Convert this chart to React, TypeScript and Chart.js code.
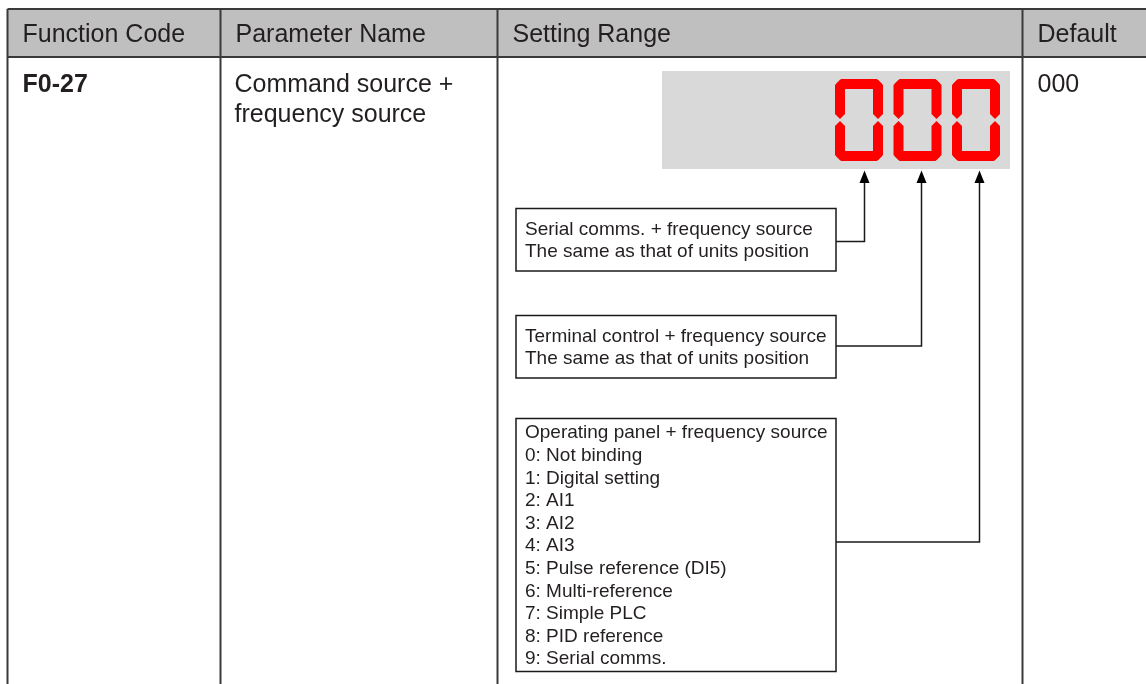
import React, { useEffect, useRef } from "react";
import { Chart, registerables } from "chart.js";

Chart.register(...registerables);

// ---- content ----
const headers = ["Function Code", "Parameter Name", "Setting Range", "Default"];
const functionCode = "F0-27";
const parameterName = ["Command source +", "frequency source"];
const defaultValue = "000";
const displayDigits = ["0", "0", "0"];
const thousandsBox = ["Serial comms. + frequency source", "The same as that of units position"];
const hundredsBox = ["Terminal control + frequency source", "The same as that of units position"];
const unitsBox = [
  "Operating panel + frequency source",
  "0: Not binding",
  "1: Digital setting",
  "2: AI1",
  "3: AI2",
  "4: AI3",
  "5: Pulse reference (DI5)",
  "6: Multi-reference",
  "7: Simple PLC",
  "8: PID reference",
  "9: Serial comms.",
];

// ---- layout (pixel space of the 1146x684 canvas) ----
const W = 1146;
const H = 684;
const colX = [7.5, 220.5, 497.5, 1022.5];
const tableTop = 9;
const headerBottom = 57;
const textColor = "#231f20";
const lineColor = "#3a3a3a";
const FONT = '"Liberation Sans", Arial, sans-serif';

const tablePlugin = {
  id: "tableDiagram",
  afterDraw(chart: any) {
    const ctx = chart.ctx as CanvasRenderingContext2D;
    const xs = chart.scales.x;
    const ys = chart.scales.y;
    const X = (v: number) => xs.getPixelForValue(v);
    const Y = (v: number) => ys.getPixelForValue(v);
    ctx.save();

    // header background
    ctx.fillStyle = "#bfbfbf";
    ctx.fillRect(X(colX[0]), Y(tableTop), X(W + 10) - X(colX[0]), Y(headerBottom) - Y(tableTop));

    // grid lines
    ctx.strokeStyle = lineColor;
    ctx.lineWidth = 2;
    ctx.beginPath();
    ctx.moveTo(X(colX[0]), Y(tableTop));
    ctx.lineTo(X(W + 10), Y(tableTop));
    ctx.moveTo(X(colX[0]), Y(headerBottom));
    ctx.lineTo(X(W + 10), Y(headerBottom));
    colX.forEach((c) => {
      ctx.moveTo(X(c), Y(tableTop));
      ctx.lineTo(X(c), Y(H + 10));
    });
    ctx.stroke();

    // header texts
    ctx.fillStyle = textColor;
    ctx.textBaseline = "alphabetic";
    ctx.textAlign = "left";
    ctx.font = `25px ${FONT}`;
    headers.forEach((h, i) => {
      ctx.fillText(h, X(colX[i] + 15), Y(41.5));
    });

    // body row
    ctx.font = `bold 25px ${FONT}`;
    ctx.fillText(functionCode, X(22.5), Y(92));
    ctx.font = `25px ${FONT}`;
    parameterName.forEach((t, i) => ctx.fillText(t, X(colX[1] + 14), Y(92 + i * 29.5)));
    ctx.fillText(defaultValue, X(colX[3] + 15), Y(92));

    // LCD display
    ctx.fillStyle = "#d9d9d9";
    ctx.fillRect(X(662), Y(71), X(1010) - X(662), Y(169) - Y(71));

    const digitX = [835, 893.5, 952];
    const dw = 48, dh = 82, t = 10, g = 1;
    const dy = 79;
    ctx.fillStyle = "#ff0000";
    const hseg = (x0: number, yc: number) => {
      const xa = x0 + g, xb = x0 + dw - g;
      ctx.beginPath();
      ctx.moveTo(X(xa), Y(yc));
      ctx.lineTo(X(xa + t / 2), Y(yc - t / 2));
      ctx.lineTo(X(xb - t / 2), Y(yc - t / 2));
      ctx.lineTo(X(xb), Y(yc));
      ctx.lineTo(X(xb - t / 2), Y(yc + t / 2));
      ctx.lineTo(X(xa + t / 2), Y(yc + t / 2));
      ctx.closePath();
      ctx.fill();
    };
    const vseg = (xc: number, ya: number, yb: number) => {
      ctx.beginPath();
      ctx.moveTo(X(xc), Y(ya));
      ctx.lineTo(X(xc + t / 2), Y(ya + t / 2));
      ctx.lineTo(X(xc + t / 2), Y(yb - t / 2));
      ctx.lineTo(X(xc), Y(yb));
      ctx.lineTo(X(xc - t / 2), Y(yb - t / 2));
      ctx.lineTo(X(xc - t / 2), Y(ya + t / 2));
      ctx.closePath();
      ctx.fill();
    };
    displayDigits.forEach((d, i) => {
      const x0 = digitX[i];
      const y0 = dy;
      if (d === "0") {
        hseg(x0, y0 + t / 2);
        hseg(x0, y0 + dh - t / 2);
        const mid = y0 + dh / 2;
        vseg(x0 + t / 2, y0 + g, mid - g);
        vseg(x0 + t / 2, mid + g, y0 + dh - g);
        vseg(x0 + dw - t / 2, y0 + g, mid - g);
        vseg(x0 + dw - t / 2, mid + g, y0 + dh - g);
      }
    });

    // boxes
    const boxes = [
      { lines: thousandsBox, top: 208.5, bottom: 271, first: 234.5, conn: 241.5, ax: 864.5 },
      { lines: hundredsBox, top: 315.5, bottom: 378, first: 341.5, conn: 346, ax: 921.5 },
      { lines: unitsBox, top: 418.5, bottom: 671.5, first: 438.3, conn: 542, ax: 979.5 },
    ];
    const boxL = 516, boxR = 836;
    ctx.strokeStyle = "#1a1a1a";
    ctx.lineWidth = 1.5;
    ctx.font = `19px ${FONT}`;
    boxes.forEach((b) => {
      ctx.strokeRect(X(boxL), Y(b.top), X(boxR) - X(boxL), Y(b.bottom) - Y(b.top));
      ctx.fillStyle = textColor;
      b.lines.forEach((ln, i) => ctx.fillText(ln, X(525), Y(b.first + i * 22.6)));
      // connector
      ctx.beginPath();
      ctx.moveTo(X(boxR), Y(b.conn));
      ctx.lineTo(X(b.ax), Y(b.conn));
      ctx.lineTo(X(b.ax), Y(180));
      ctx.stroke();
      // arrowhead
      ctx.fillStyle = "#000";
      ctx.beginPath();
      ctx.moveTo(X(b.ax), Y(170.5));
      ctx.lineTo(X(b.ax + 5), Y(183));
      ctx.lineTo(X(b.ax - 5), Y(183));
      ctx.closePath();
      ctx.fill();
    });

    ctx.restore();
  },
};

export default function App() {
  const ref = useRef<HTMLCanvasElement | null>(null);
  useEffect(() => {
    if (!ref.current) return;
    const chart = new Chart(ref.current, {
      type: "scatter",
      data: { datasets: [] },
      options: {
        animation: false,
        responsive: true,
        maintainAspectRatio: false,
        layout: { padding: 0 },
        scales: {
          x: { type: "linear", min: 0, max: W, display: false },
          y: { type: "linear", min: 0, max: H, reverse: true, display: false },
        },
        plugins: { legend: { display: false }, tooltip: { enabled: false } },
      },
      plugins: [tablePlugin],
    });
    return () => chart.destroy();
  }, []);
  return (
    <div style={{ position: "absolute", left: 0, top: 0, width: W, height: H, background: "#fff" }}>
      <canvas ref={ref} />
    </div>
  );
}
